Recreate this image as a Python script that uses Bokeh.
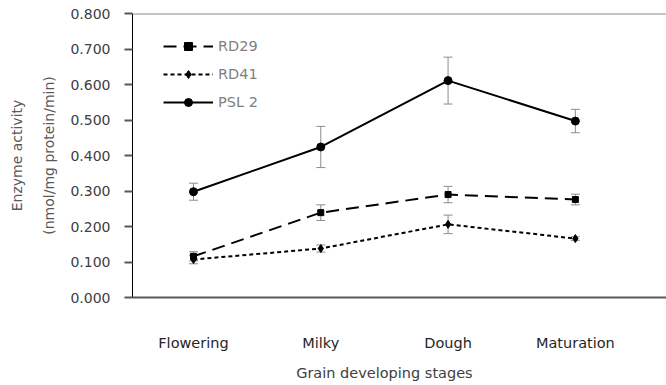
from bokeh.plotting import figure
from bokeh.models import Range1d, Span, Whisker, ColumnDataSource, Legend, LegendItem, FixedTicker, TeeHead, LinearAxis
from bokeh.embed import file_html
from bokeh.resources import INLINE

stages = ["Flowering", "Milky", "Dough", "Maturation"]
xpos = [1, 2, 3, 4]
rd29 = [0.116, 0.239, 0.290, 0.276]
rd29_err = [0.013, 0.022, 0.023, 0.015]
rd41 = [0.107, 0.138, 0.206, 0.166]
rd41_err = [0.012, 0.010, 0.026, 0.005]
psl2 = [0.298, 0.424, 0.611, 0.497]
psl2_err = [0.024, 0.058, 0.066, 0.033]
y_ticks = [0.0, 0.1, 0.2, 0.3, 0.4, 0.5, 0.6, 0.7, 0.8]
x_title = "Grain developing stages"
y_title = "Enzyme activity\n(nmol/mg protein/min)"

FONT = "DejaVu Sans"

p = figure(width=666, height=385, output_backend="svg", toolbar_location=None,
           x_range=Range1d(0.521, 4.716), y_range=Range1d(0, 0.8),
           min_border_left=132, min_border_right=0, min_border_top=13, min_border_bottom=88)
p.outline_line_color = None
p.xgrid.visible = False
p.ygrid.visible = False
p.background_fill_color = "white"

# y axis
p.yaxis.ticker = FixedTicker(ticks=y_ticks)
p.yaxis.major_label_overrides = {t: f"{t:.3f}" for t in y_ticks}
p.yaxis.axis_line_color = "black"
p.yaxis.axis_line_width = 1
p.yaxis.major_tick_line_color = "#595959"
p.yaxis.major_tick_line_width = 2
p.yaxis.major_tick_in = 0
p.yaxis.major_tick_out = 8
p.yaxis.minor_tick_line_color = None
p.yaxis.major_label_text_font = FONT
p.yaxis.major_label_text_font_size = "14px"
p.yaxis.major_label_text_color = "#404040"
p.yaxis.major_label_standoff = 14
p.yaxis.axis_label = y_title
p.yaxis.axis_label_text_font = FONT
p.yaxis.axis_label_text_font_size = "14px"
p.yaxis.axis_label_text_font_style = "normal"
p.yaxis.axis_label_text_color = "#595959"
p.yaxis.axis_label_text_line_height = 2.0
p.yaxis.axis_label_standoff = 10

# x axis (categories)
p.xaxis.ticker = FixedTicker(ticks=xpos)
p.xaxis.major_label_overrides = {x: s for x, s in zip(xpos, stages)}
p.xaxis.axis_line_color = "#595959"
p.xaxis.axis_line_width = 2
p.xaxis.major_tick_line_color = None
p.xaxis.minor_tick_line_color = None
p.xaxis.major_label_text_font = FONT
p.xaxis.major_label_text_font_size = "14.5px"
p.xaxis.major_label_text_color = "#262626"
p.xaxis.major_label_standoff = 31

# x title as a second below axis, centred on the categories
xt = LinearAxis(ticker=FixedTicker(ticks=[2.5]), major_label_overrides={2.5: x_title},
                axis_line_color=None, major_tick_line_color=None, minor_tick_line_color=None,
                major_label_text_font=FONT, major_label_text_font_size="14.5px",
                major_label_text_color="#404040", major_label_standoff=5)
p.add_layout(xt, "below")

p.add_layout(Span(location=0.8, dimension="width", line_color="#8c8c8c", line_width=2))

def series(vals, errs, dash, marker, msize):
    src = ColumnDataSource(dict(x=xpos, y=vals,
                                lo=[v - e for v, e in zip(vals, errs)],
                                hi=[v + e for v, e in zip(vals, errs)]))
    w = Whisker(source=src, base="x", lower="lo", upper="hi", line_color="#8c8c8c", line_width=1,
                upper_head=TeeHead(size=9, line_color="#8c8c8c", line_width=1),
                lower_head=TeeHead(size=9, line_color="#8c8c8c", line_width=1))
    p.add_layout(w)
    r1 = p.line("x", "y", source=src, line_color="black", line_width=2, line_dash=dash)
    r2 = p.scatter("x", "y", source=src, marker=marker, size=msize, fill_color="black", line_color="black")
    return [r1, r2]

r29 = series(rd29, rd29_err, "13 7", "square", 6)
r41 = series(rd41, rd41_err, "4 3", "diamond", 8)
rp = series(psl2, psl2_err, "solid", "circle", 8)

legend = Legend(items=[LegendItem(label="RD29", renderers=r29),
                       LegendItem(label="RD41", renderers=r41),
                       LegendItem(label="PSL 2", renderers=rp)],
                location=(31, 185), glyph_width=50, glyph_height=20, spacing=8,
                label_standoff=5, padding=0, margin=0,
                border_line_color=None, background_fill_alpha=0,
                label_text_font=FONT, label_text_font_size="14.5px", label_text_color="#7f7f7f")
p.add_layout(legend)

open("out.html", "w").write(file_html(p, INLINE))
